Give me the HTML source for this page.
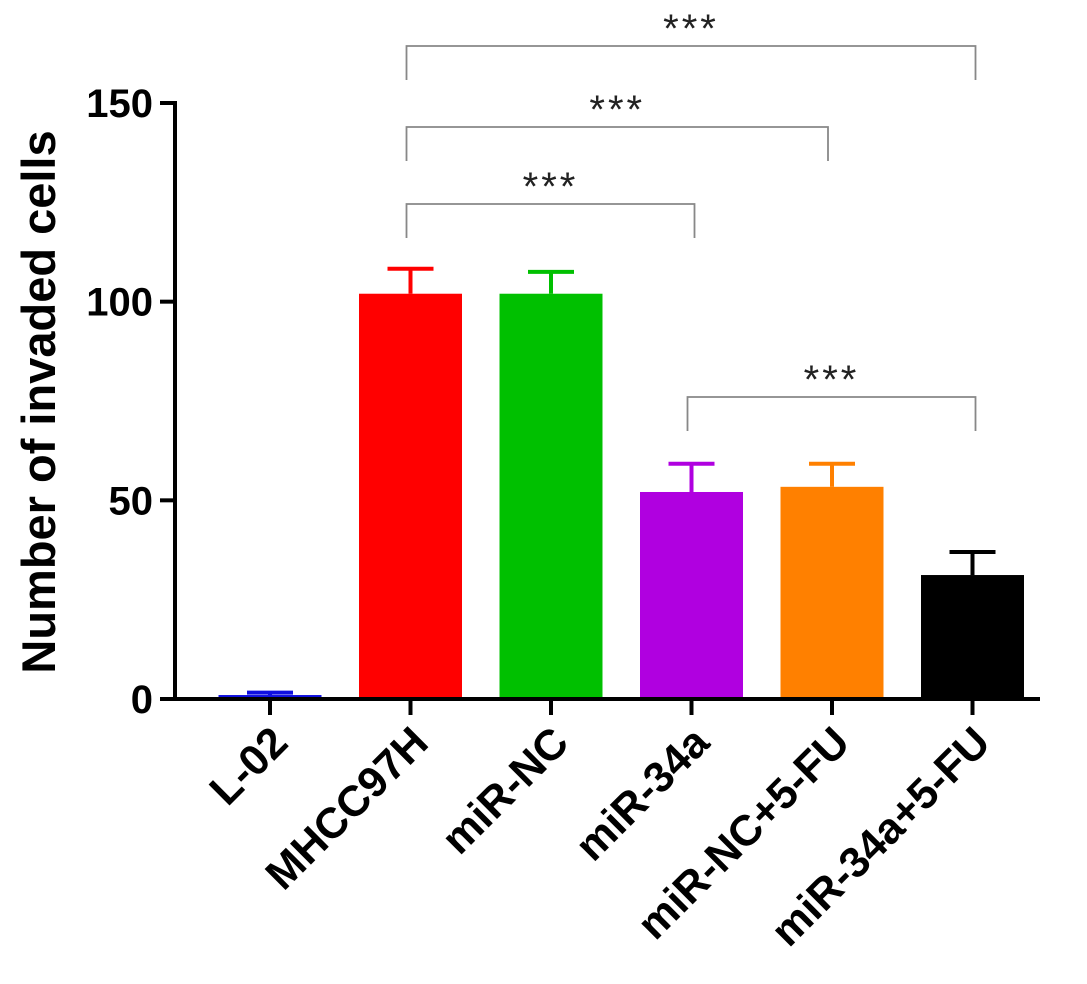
<!DOCTYPE html>
<html><head><meta charset="utf-8"><style>
html,body{margin:0;padding:0;background:#fff;}
svg{display:block;font-family:"Liberation Sans",Arial,sans-serif;}
</style></head><body>
<svg id="chart" width="1087" height="984" viewBox="0 0 1087 984"></svg>
<script>
const categories = ["L-02","MHCC97H","miR-NC","miR-34a","miR-NC+5-FU","miR-34a+5-FU"];
const means = [1, 102, 102, 52.1, 53.4, 31.2];
const errors = [0.6, 6.3, 5.5, 7.1, 5.8, 5.8];
const colors = ["#1010e0","#ff0000","#00c000","#b000e0","#ff8000","#000000"];
const yTicks = [0, 50, 100, 150];
const sigFrom = [1, 1, 1, 3];
const sigTo = [3, 4, 5, 5];
const sigLevel = [204, 127, 46, 397];
const sigLabels = ["***","***","***","***"];

const NS="http://www.w3.org/2000/svg";
const svg=document.getElementById('chart');
const axX=175, y0=699, yTop=103, xEnd=1040;
const firstC=270, step=140.5, barW=103;
function y(v){return y0-(v/150)*(y0-yTop);}
function x(i){return firstC+i*step;}
function mk(t,a){const e=document.createElementNS(NS,t);for(const k in a)e.setAttribute(k,a[k]);svg.appendChild(e);return e;}

categories.forEach((c,i)=>{
  const b=mk('rect',{x:x(i)-barW/2,y:y(means[i]),width:barW,height:y0-y(means[i]),fill:colors[i]});
  
  
  const e1=mk('line',{x1:x(i),x2:x(i),y1:y(means[i]),y2:y(means[i]+errors[i]),stroke:colors[i],'stroke-width':4});
  
  
  const e2=mk('line',{x1:x(i)-23,x2:x(i)+23,y1:y(means[i]+errors[i]),y2:y(means[i]+errors[i]),stroke:colors[i],'stroke-width':4});
  
  
});

const ya=mk('line',{x1:axX,x2:axX,y1:yTop-2,y2:y0+2,stroke:'#000','stroke-width':4});


const xa=mk('line',{x1:axX-2,x2:xEnd,y1:y0,y2:y0,stroke:'#000','stroke-width':4});



yTicks.forEach(v=>{
  const t=mk('line',{x1:axX-15,x2:axX,y1:y(v),y2:y(v),stroke:'#000','stroke-width':4});
  
  
  const l=mk('text',{x:axX-22,y:y(v)+14,'text-anchor':'end','font-size':40,'font-weight':'bold',fill:'#000'});
  l.textContent=v;
  
  
});

categories.forEach((c,i)=>{
  const t=mk('line',{x1:x(i),x2:x(i),y1:y0,y2:y0+16,stroke:'#000','stroke-width':4});
  
  
  const l=mk('text',{x:x(i)+20,y:y0+46,'text-anchor':'end','font-size':43,'font-weight':'bold',fill:'#000',transform:`rotate(-45 ${x(i)+20} ${y0+46})`});
  l.textContent=c;
  
  
});

const yt=mk('text',{x:0,y:0,'text-anchor':'middle','font-size':47,'font-weight':'bold',fill:'#000',transform:'translate(55 402) rotate(-90)'});
yt.textContent='Number of invaded cells';



sigFrom.forEach((f,k)=>{
  const a=x(f)-4, b=x(sigTo[k])+(sigTo[k]===4?-4:3), t=sigLevel[k];
  const p=mk('path',{d:`M${a} ${t+34}V${t}H${b}V${t+34}`,fill:'none',stroke:'#888','stroke-width':1.8});
  
  
  const s=mk('text',{x:(a+b)/2,y:t-4,'text-anchor':'middle','font-size':40,'letter-spacing':'3',fill:'#222'});
  s.textContent=sigLabels[k];
  
  
});
</script>
</body></html>
